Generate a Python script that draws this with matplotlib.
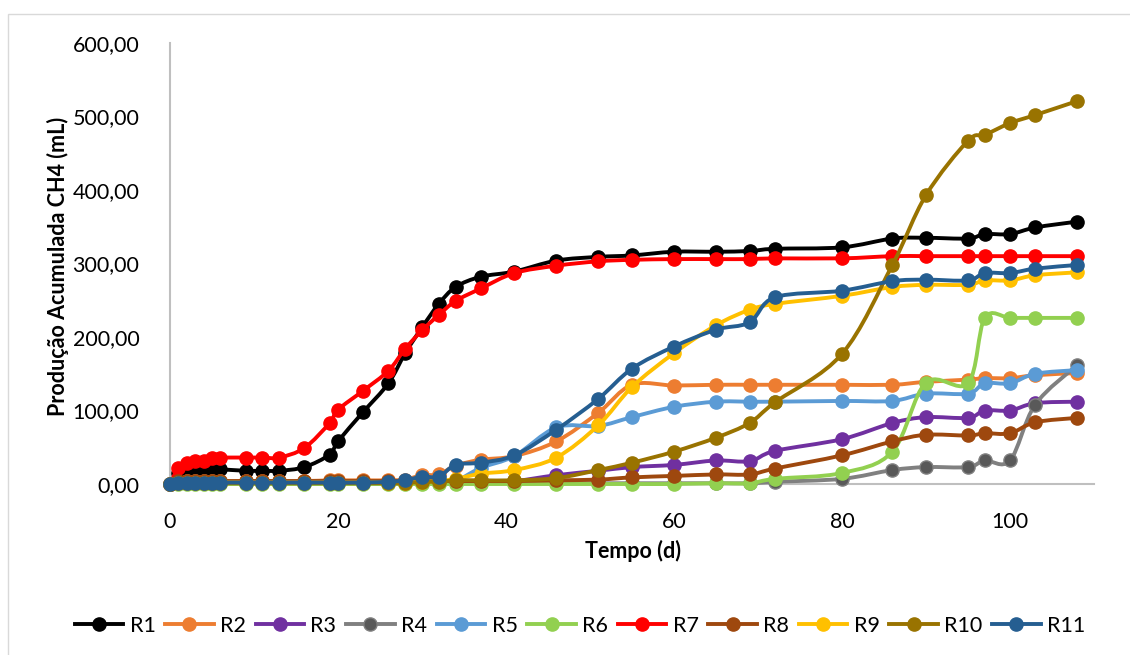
import numpy as np
import matplotlib
matplotlib.use("Agg")
import matplotlib.pyplot as plt
from matplotlib.path import Path
from matplotlib.patches import PathPatch, Rectangle
from matplotlib.lines import Line2D
from matplotlib.ticker import FuncFormatter

# sampling days
days = [0, 1, 2, 3, 4, 5, 6, 9, 11, 13, 16, 19, 20, 23, 26, 28, 30, 32, 34, 37,
        41, 46, 51, 55, 60, 65, 69, 72, 80, 86, 90, 95, 97, 100, 103, 108]

# cumulative CH4 (mL) per reactor
r1 = [0, 15, 17, 18, 18, 20, 20, 18, 18, 18, 23, 40, 58, 98, 137, 178, 213, 245, 268, 282,
      289, 304, 309, 311, 316, 316, 317, 320, 322, 334, 335, 334, 340, 340, 349, 357]
r2 = [0, 3, 4, 4, 4, 4, 4, 4, 4, 4, 4, 5, 5, 5, 5, 6, 12, 13, 25, 33,
      38, 58, 97, 135, 134, 135, 135, 135, 135, 135, 139, 142, 144, 144, 148, 151]
r3 = [0, 2, 2, 2, 2, 2, 2, 2, 2, 2, 2, 2, 2, 2, 2, 2, 2, 2, 3, 3,
      4, 12, 18, 23, 26, 32, 31, 45, 61, 83, 91, 90, 100, 100, 110, 112]
r4 = [0, 1, 1, 1, 1, 1, 1, 1, 1, 1, 1, 1, 1, 1, 1, 1, 1, 1, 1, 1,
      1, 1, 1, 1, 1, 1, 1, 3, 7, 19, 23, 23, 32, 32, 108, 162]
r5 = [0, 3, 3, 3, 3, 3, 3, 3, 3, 3, 3, 3, 3, 3, 3, 3, 3, 3, 4, 22,
      38, 77, 79, 91, 105, 112, 112, 112, 113, 113, 123, 123, 137, 137, 150, 155]
r6 = [0, 0, 0, 0, 0, 0, 0, 0, 0, 0, 0, 0, 0, 0, 0, 0, 0, 0, 0, 0,
      0, 0, 0, 0, 0, 1, 1, 7, 15, 44, 138, 137, 226, 226, 226, 226]
r7 = [0, 22, 29, 31, 31, 36, 36, 36, 36, 36, 49, 83, 101, 127, 154, 184, 209, 230, 249, 266,
      287, 297, 303, 305, 306, 306, 306, 307, 307, 310, 310, 310, 310, 310, 310, 310]
r8 = [0, 4, 4, 4, 4, 4, 4, 4, 4, 4, 4, 4, 4, 4, 4, 4, 4, 4, 4, 4,
      4, 5, 6, 9, 11, 13, 13, 21, 39, 58, 67, 66, 69, 69, 84, 90]
r9 = [0, 2, 2, 2, 2, 2, 2, 2, 2, 2, 2, 2, 2, 2, 2, 2, 3, 4, 7, 14,
      19, 36, 80, 132, 178, 216, 237, 245, 256, 268, 271, 271, 277, 277, 284, 288]
r10 = [0, 1, 1, 1, 1, 1, 1, 1, 1, 1, 1, 1, 1, 1, 1, 1, 3, 3, 5, 5,
       5, 8, 19, 29, 44, 63, 83, 111, 177, 298, 393, 467, 475, 491, 502, 521]
r11 = [0, 2, 2, 2, 2, 2, 2, 2, 2, 2, 2, 2, 2, 2, 3, 5, 10, 10, 26, 29,
       39, 74, 116, 157, 187, 210, 220, 254, 263, 276, 278, 277, 287, 287, 293, 298]

labels = ["R1", "R2", "R3", "R4", "R5", "R6", "R7", "R8", "R9", "R10", "R11"]
series = [r1, r2, r3, r4, r5, r6, r7, r8, r9, r10, r11]
line_colors = ["#000000", "#ED7D31", "#7030A0", "#808080", "#5B9BD5", "#92D050",
               "#FF0000", "#9E480E", "#FFC000", "#997300", "#255E91"]
marker_colors = list(line_colors)
marker_colors[3] = "#595959"

FONT = "Lato"
TICK_SIZE = 15.5
LW = 2.8
MS = 9.5


def smooth_path(x, y):
    # cubic bezier through every point (Catmull-Rom style, like spreadsheet smoothing)
    p = np.column_stack([x, y]).astype(float)
    n = len(p)
    verts = [p[0]]
    codes = [Path.MOVETO]
    for i in range(n - 1):
        p_prev = p[i - 1] if i > 0 else p[i]
        p_next2 = p[i + 2] if i + 2 < n else p[i + 1]
        c1 = p[i] + (p[i + 1] - p_prev) / 6.0
        c2 = p[i + 1] - (p_next2 - p[i]) / 6.0
        verts += [c1, c2, p[i + 1]]
        codes += [Path.CURVE4] * 3
    return Path(verts, codes)


fig = plt.figure(figsize=(11.3, 6.55), dpi=100)
ax = fig.add_axes([170 / 1130, 1 - 484 / 655, 924 / 1130, 441 / 655])

# chart frame
fig.patches.append(Rectangle((8 / 1130, -0.05), 1.2, 1 - 14 / 655 + 0.05,
                             transform=fig.transFigure, fill=False,
                             edgecolor="#D9D9D9", linewidth=1.0))

for i, (lab, vals) in enumerate(zip(labels, series)):
    z = 3 + i
    ax.add_patch(PathPatch(smooth_path(days, vals), facecolor="none",
                           edgecolor=line_colors[i], linewidth=LW,
                           capstyle="round", joinstyle="round",
                           zorder=z, clip_on=False))
    ax.plot(days, vals, linestyle="none", marker="o", markersize=MS,
            markerfacecolor=marker_colors[i], markeredgecolor=line_colors[i],
            markeredgewidth=1.0, zorder=z, clip_on=False)

ax.set_xlim(0, 110)
ax.set_ylim(0, 600)
ax.set_xticks([0, 20, 40, 60, 80, 100])
ax.set_yticks(np.arange(0, 601, 100))
ax.yaxis.set_major_formatter(FuncFormatter(lambda v, _: f"{v:.2f}".replace(".", ",")))
ax.tick_params(length=0, labelsize=TICK_SIZE, colors="#000000")
ax.tick_params(axis="y", pad=22)
ax.tick_params(axis="x", pad=20)
for t in ax.get_xticklabels() + ax.get_yticklabels():
    t.set_fontfamily(FONT)

for s in ["top", "right"]:
    ax.spines[s].set_visible(False)
for s in ["left", "bottom"]:
    ax.spines[s].set_color("#BFBFBF")
    ax.spines[s].set_linewidth(1.5)

fig.text(633 / 1130, 1 - 551 / 655, "Tempo (d)", ha="center", va="center",
         fontsize=TICK_SIZE, fontweight="bold", fontfamily=FONT)
fig.text(58 / 1130, 1 - 266 / 655, "Produção Acumulada CH4 (mL)", ha="center",
         va="center", rotation=90, fontsize=TICK_SIZE, fontweight="bold",
         fontfamily=FONT)

handles = [Line2D([], [], color=line_colors[i], linewidth=LW, marker="o",
                  markersize=MS, markerfacecolor=marker_colors[i],
                  markeredgecolor=line_colors[i]) for i in range(len(labels))]
fig.legend(handles, labels, loc="center", bbox_to_anchor=(580 / 1130, 1 - 626 / 655),
           ncol=11, frameon=False, handlelength=2.25, handletextpad=0.3,
           columnspacing=0.45, borderaxespad=0,
           prop={"family": FONT, "size": TICK_SIZE})

fig.savefig("out.png", dpi=100)
